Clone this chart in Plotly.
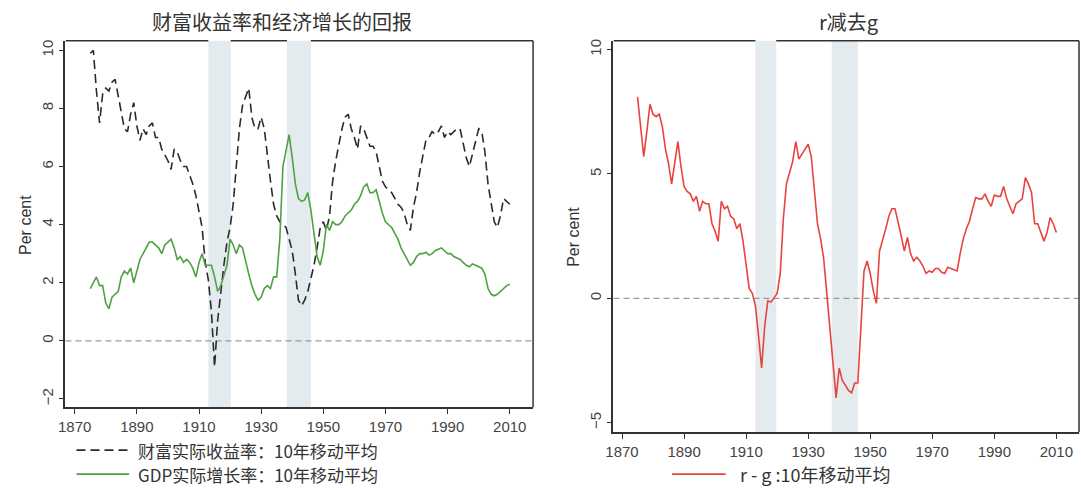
import plotly.graph_objects as go

# ---------------- data (10-year moving averages) -------------
years = list(range(1875, 2011))

r_return = [
    9.9, 10.0, 8.6, 7.5, 8.5,
    8.7, 8.6, 8.9, 9.0, 8.4, 7.8, 7.3, 7.2, 7.8, 8.2,
    7.4, 6.9, 7.3, 7.1, 7.4, 7.5, 7.0, 7.0, 6.6, 6.4,
    6.2, 5.9, 6.6, 6.5, 6.2, 6.0, 6.0, 5.7, 5.4, 5.0,
    4.5, 3.9, 2.7, 2.1, 1.0, -0.9, 0.7, 1.7, 2.6, 3.4,
    3.9, 4.7, 6.0, 7.3, 8.1, 8.4, 8.7, 7.7, 7.3, 7.3,
    7.7, 7.3, 6.3, 5.5, 4.7, 4.3, 4.1, 4.0, 3.9, 3.5,
    3.1, 2.3, 1.4, 1.2, 1.4, 1.7, 2.1, 2.6, 3.2, 3.9,
    4.1, 3.8, 4.3, 5.5, 6.2, 6.8, 7.3, 7.7, 7.8, 7.3,
    7.0, 6.6, 7.4, 7.3, 7.0, 6.7, 6.7, 6.5, 6.0, 5.5,
    5.3, 5.2, 5.1, 4.9, 4.7, 4.6, 4.4, 4.0, 3.8, 4.6,
    5.1, 5.8, 6.4, 6.9, 7.0, 7.2, 7.1, 7.2, 7.4, 7.0,
    7.2, 7.1, 7.2, 7.3, 7.3, 6.8, 6.3, 6.0, 6.4, 6.8,
    7.3, 7.2, 6.5, 5.4, 4.7, 4.1, 3.9, 4.3, 4.9, 4.8, 4.7,
]

g_growth = [
    1.8, 2.0, 2.2, 1.9, 1.9,
    1.3, 1.1, 1.5, 1.6, 1.7, 2.2, 2.4, 2.3, 2.5, 2.0,
    2.4, 2.8, 3.0, 3.2, 3.4, 3.4, 3.3, 3.2, 3.0, 3.3,
    3.4, 3.5, 3.2, 2.8, 2.9, 2.7, 2.8, 2.7, 2.5, 2.2,
    2.7, 3.0, 2.6, 2.6, 2.6, 2.2, 1.7, 1.9, 2.3, 2.6,
    3.5, 3.3, 3.0, 3.3, 3.2, 2.7, 2.3, 1.9, 1.6, 1.4,
    1.5, 1.8, 1.9, 1.8, 2.2, 2.2, 3.5, 6.0, 6.6, 7.1,
    6.3, 5.4, 4.9, 4.8, 4.85, 5.1, 4.5, 3.6, 2.9, 2.6,
    3.1, 4.0, 3.8, 4.1, 4.0, 4.0, 4.1, 4.3, 4.4, 4.5,
    4.7, 4.8, 5.0, 5.3, 5.4, 5.1, 5.1, 5.2, 4.8, 4.4,
    4.1, 4.0, 3.9, 3.7, 3.5, 3.2, 3.0, 2.8, 2.6, 2.7,
    2.9, 3.0, 3.0, 3.05, 2.95, 3.0, 3.1, 3.15, 3.2, 3.1,
    3.0, 3.0, 2.9, 2.85, 2.8, 2.7, 2.6, 2.55, 2.65, 2.6,
    2.55, 2.5, 2.3, 1.8, 1.6, 1.55, 1.6, 1.7, 1.8, 1.9, 1.95,
]

r_minus_g = [
    8.1, 7.0, 5.7, 6.7, 7.8,
    7.4, 7.3, 7.4, 6.9, 6.0, 5.4, 4.6, 5.5, 6.3, 5.3,
    4.5, 4.3, 4.2, 3.9, 4.1, 3.5, 3.9, 3.8, 3.8, 3.0,
    2.7, 2.3, 3.9, 3.6, 3.7, 3.3, 3.2, 2.8, 3.0, 2.3,
    1.3, 0.4, 0.2, -0.3, -1.5, -2.8, -1.1, -0.1, -0.15, 0.05,
    0.2, 1.0, 3.2, 4.6, 5.1, 5.5, 6.3, 5.6, 5.8, 6.0,
    6.2, 5.7, 4.2, 3.0, 2.4, 1.6, 0.2, -1.2, -2.6, -4.0,
    -2.8, -3.3, -3.5, -3.7, -3.8, -3.4, -3.4, -1.0, 1.1, 1.5,
    1.0, 0.3, -0.2, 1.9, 2.3, 2.8, 3.3, 3.6, 3.6, 3.1,
    2.5, 1.9, 2.45, 1.8, 1.5, 1.65, 1.5, 1.3, 1.0, 1.1,
    1.05, 1.2, 1.2, 1.05, 1.0, 1.25, 1.2, 1.15, 1.1, 1.8,
    2.4, 2.8, 3.1, 3.6, 4.05, 4.0, 4.0, 4.2, 3.9, 3.7,
    4.15, 4.1, 4.1, 4.5, 4.0, 3.7, 3.4, 3.8, 3.9, 4.0,
    4.85, 4.6, 4.25, 3.0, 3.0, 2.6, 2.3, 2.65, 3.25, 3.0, 2.65,
]

x_ticks = [1870, 1890, 1910, 1930, 1950, 1970, 1990, 2010]
left_y_ticks = [-2, 0, 2, 4, 6, 8, 10]
right_y_ticks = [-5, 0, 5, 10]
left_bands = [(1913, 1920.2), (1938.3, 1946)]
right_bands = [(1913, 1919.7), (1937.6, 1946)]

title_left = "财富收益率和经济增长的回报"
title_right = "r减去g"
legend_r = "财富实际收益率：10年移动平均"
legend_g = "GDP实际增长率：10年移动平均"
legend_rg = "r - g :10年移动平均"
y_title = "Per cent"

# ---------------- layout constants -------------
W, H = 1081, 488
AX = "#333333"
TICK_FONT = dict(family="Liberation Sans, Arial, sans-serif", size=15, color="#444444")
CJK = "Noto Sans CJK SC, sans-serif"
BAND = "#e3ebef"
C_R = "#2b2b2b"
C_G = "#4fa143"
C_RG = "#e8443f"
TXT = "#333333"


def fx(px):
    return px / W


def fy(py):
    return 1 - py / H


L_BOX = (57.9, 529.0, 38.9, 407.0)   # left, right, top, bottom in px
R_BOX = (610.0, 1079.0, 39.0, 432.0)

fig = go.Figure()

fig.add_trace(go.Scatter(x=years, y=r_return, mode="lines", xaxis="x", yaxis="y",
                         line=dict(color=C_R, width=1.6, dash="9px,5px"),
                         name=legend_r, showlegend=False))
fig.add_trace(go.Scatter(x=years, y=g_growth, mode="lines", xaxis="x", yaxis="y",
                         line=dict(color=C_G, width=1.6), name=legend_g, showlegend=False))
fig.add_trace(go.Scatter(x=years, y=r_minus_g, mode="lines", xaxis="x2", yaxis="y2",
                         line=dict(color=C_RG, width=1.6), name=legend_rg, showlegend=False))

common_x = dict(tickmode="array", tickvals=x_ticks, ticks="outside", ticklen=5, tickwidth=1.2,
                tickcolor=AX, showline=True, linecolor=AX, linewidth=1.5, showgrid=False,
                zeroline=False, tickfont=TICK_FONT)
common_y = dict(tickmode="array", ticks="outside", ticklen=5, tickwidth=1.2, tickcolor=AX,
                showline=True, linecolor=AX, linewidth=1.5, showgrid=False, zeroline=False,
                tickangle=-90, tickfont=TICK_FONT)

fig.update_layout(
    width=W, height=H, margin=dict(l=0, r=0, t=0, b=0),
    paper_bgcolor="white", plot_bgcolor="white", showlegend=False,
    xaxis=dict(domain=[fx(L_BOX[0]), fx(L_BOX[1])], range=[1867.03, 2017.5], anchor="y", **common_x),
    yaxis=dict(domain=[fy(L_BOX[3]), fy(L_BOX[2])], range=[-2.29, 10.33], anchor="x",
               tickvals=left_y_ticks, **common_y),
    xaxis2=dict(domain=[fx(R_BOX[0]), fx(R_BOX[1])], range=[1867.25, 2017.3], anchor="y2", **common_x),
    yaxis2=dict(domain=[fy(R_BOX[3]), fy(R_BOX[2])], range=[-5.38, 10.35], anchor="x2",
                tickvals=right_y_ticks, **common_y),
)

shapes = []
# war bands
for (a, b) in left_bands:
    shapes.append(dict(type="rect", xref="x", yref="y domain", x0=a, x1=b, y0=0, y1=1,
                       fillcolor=BAND, line=dict(width=0), layer="below"))
for (a, b) in right_bands:
    shapes.append(dict(type="rect", xref="x2", yref="y2 domain", x0=a, x1=b, y0=0, y1=1,
                       fillcolor=BAND, line=dict(width=0), layer="below"))
# zero reference lines
shapes.append(dict(type="line", xref="x domain", yref="y", x0=0, x1=1, y0=0, y1=0,
                   line=dict(color="#9a9a9a", width=1.2, dash="6px,4px"), layer="below"))
shapes.append(dict(type="line", xref="x2 domain", yref="y2", x0=0, x1=1, y0=0, y1=0,
                   line=dict(color="#9a9a9a", width=1.2, dash="6px,4px"), layer="below"))
# right borders
shapes.append(dict(type="line", xref="x domain", yref="y domain", x0=1, x1=1, y0=0, y1=1,
                   line=dict(color=AX, width=1.5)))
shapes.append(dict(type="line", xref="x2 domain", yref="y2 domain", x0=1, x1=1, y0=0, y1=1,
                   line=dict(color=AX, width=1.5)))
# top borders (interrupted by the shaded bands)
top_left = [(1867.03, left_bands[0][0]), (left_bands[0][1], left_bands[1][0]), (left_bands[1][1], 2017.5)]
for (a, b) in top_left:
    shapes.append(dict(type="line", xref="x", yref="y domain", x0=a, x1=b, y0=1, y1=1,
                       line=dict(color=AX, width=1.5)))
top_right = [(1867.25, right_bands[0][0]), (right_bands[0][1], 2017.3)]
for (a, b) in top_right:
    shapes.append(dict(type="line", xref="x2", yref="y2 domain", x0=a, x1=b, y0=1, y1=1,
                       line=dict(color=AX, width=1.5)))

# legend rows
LEG_FS = 17
ROW1, ROW2 = 450.0, 474.0
shapes.append(dict(type="line", xref="paper", yref="paper", x0=fx(69), x1=fx(122), y0=fy(ROW1), y1=fy(ROW1),
                   line=dict(color=C_R, width=1.6, dash="9px,5px")))
shapes.append(dict(type="line", xref="paper", yref="paper", x0=fx(69), x1=fx(122), y0=fy(ROW2), y1=fy(ROW2),
                   line=dict(color=C_G, width=1.8)))
shapes.append(dict(type="line", xref="paper", yref="paper", x0=fx(669), x1=fx(723), y0=fy(ROW2), y1=fy(ROW2),
                   line=dict(color=C_RG, width=1.8)))
fig.update_layout(shapes=shapes)

ann = []
ann.append(dict(text=title_left, x=fx(276), y=fy(20), xref="paper", yref="paper", showarrow=False,
                xanchor="center", yanchor="middle", font=dict(family=CJK, size=20, color=TXT)))
ann.append(dict(text=title_right, x=fx(847), y=fy(20), xref="paper", yref="paper", showarrow=False,
                xanchor="center", yanchor="middle", font=dict(family=CJK, size=20, color=TXT)))
ann.append(dict(text=y_title, x=fx(17), y=fy(224), xref="paper", yref="paper", showarrow=False,
                textangle=-90, xanchor="center", yanchor="middle",
                font=dict(family="Liberation Sans, Arial, sans-serif", size=16, color=TXT)))
ann.append(dict(text=y_title, x=fx(569), y=fy(236), xref="paper", yref="paper", showarrow=False,
                textangle=-90, xanchor="center", yanchor="middle",
                font=dict(family="Liberation Sans, Arial, sans-serif", size=16, color=TXT)))
ann.append(dict(text=legend_r, x=fx(129), y=fy(ROW1), xref="paper", yref="paper", showarrow=False,
                xanchor="left", yanchor="middle", font=dict(family=CJK, size=LEG_FS, color=TXT)))
ann.append(dict(text=legend_g, x=fx(129), y=fy(ROW2), xref="paper", yref="paper", showarrow=False,
                xanchor="left", yanchor="middle", font=dict(family=CJK, size=LEG_FS, color=TXT)))
ann.append(dict(text=legend_rg, x=fx(735), y=fy(ROW2), xref="paper", yref="paper", showarrow=False,
                xanchor="left", yanchor="middle", font=dict(family=CJK, size=LEG_FS + 1, color=TXT)))
fig.update_layout(annotations=ann)

fig.write_html("out.html")
